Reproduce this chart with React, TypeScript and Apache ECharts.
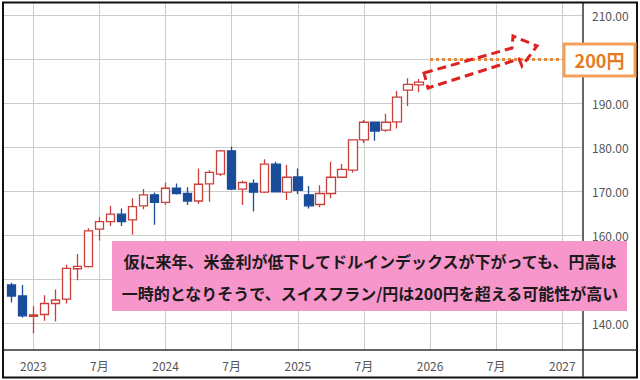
import React, { useEffect, useRef } from "react";
import * as echarts from "echarts";

// Monthly candles (CHF/JPY)
const months = [
  "2022-11", "2022-12",
  "2023-01", "2023-02", "2023-03", "2023-04", "2023-05", "2023-06",
  "2023-07", "2023-08", "2023-09", "2023-10", "2023-11", "2023-12",
  "2024-01", "2024-02", "2024-03", "2024-04", "2024-05", "2024-06",
  "2024-07", "2024-08", "2024-09", "2024-10", "2024-11", "2024-12",
  "2025-01", "2025-02", "2025-03", "2025-04", "2025-05", "2025-06",
  "2025-07", "2025-08", "2025-09", "2025-10", "2025-11", "2025-12",
];
const opens = [
  148.7, 146.2,
  141.6, 142.0, 144.5, 145.5, 152.4, 152.9,
  161.4, 163.1, 164.8, 163.5, 166.7, 169.2,
  167.5, 170.7, 169.5, 167.8, 171.7, 173.9,
  179.2, 170.5, 171.8, 169.8, 176.2, 169.8,
  173.25, 169.2, 167.0, 169.5, 173.2, 174.8,
  181.7, 185.7, 183.9, 185.8, 193.0, 194.2,
];
const closes = [
  146.2, 141.7,
  141.9, 144.5, 145.3, 152.5, 152.95, 161.0,
  163.1, 164.8, 163.1, 166.5, 169.2, 167.5,
  170.7, 169.5, 167.8, 171.6, 174.3, 179.2,
  170.5, 172.0, 169.8, 176.2, 169.9, 173.2,
  170.2, 166.7, 169.5, 173.2, 175.0, 181.7,
  185.7, 183.7, 185.7, 191.4, 194.3, 194.8,
];
const lows = [
  144.7, 141.3,
  137.7, 140.6, 140.4, 144.5, 149.8, 152.7,
  158.8, 162.1, 162.1, 160.1, 165.9, 162.4,
  166.9, 169.3, 166.9, 167.1, 167.6, 173.5,
  170.3, 166.9, 165.4, 169.6, 169.7, 168.0,
  169.4, 166.1, 166.4, 168.4, 173.1, 174.2,
  181.0, 181.5, 183.5, 184.3, 189.4, 192.5,
];
const highs = [
  149.2, 148.7,
  143.9, 146.4, 147.7, 153.3, 155.75, 161.6,
  164.1, 166.7, 166.1, 168.4, 170.5, 169.7,
  172.0, 171.8, 170.9, 175.2, 174.8, 179.4,
  180.1, 172.4, 172.7, 177.3, 176.7, 176.0,
  175.2, 171.2, 171.4, 176.7, 176.2, 181.8,
  186.2, 185.8, 187.6, 192.8, 195.7, 195.5,
];

// Axis ticks: month index counted from 2023-01
const xTickMonths = [0, 6, 12, 18, 24, 30, 36, 42, 48];
const baseYear = 2023;
const yTicks = [140, 150, 160, 170, 180, 190, 200, 210];
// labels hidden behind the annotation boxes in the reference are not printed
const yLabelTicks = [140, 160, 170, 180, 190, 210];

const targetLevel = 200;
const targetStartMonth = "2026-01";
const targetLabel = "200円";
const noteLines = [
  "仮に来年、米金利が低下してドルインデックスが下がっても、円高は",
  "一時的となりそうで、スイスフラン/円は200円を超える可能性が高い",
];

function monthIndex(s: string): number {
  const [y, m] = s.split("-").map(Number);
  return (y - baseYear) * 12 + (m - 1);
}

const JP = "'Noto Sans CJK JP', 'Noto Sans', sans-serif";

export default function App() {
  const ref = useRef<HTMLDivElement>(null);

  useEffect(() => {
    if (!ref.current) return;
    const chart = echarts.init(ref.current, null, { renderer: "svg" });

    const candleData = months.map((mo, i) => [
      monthIndex(mo),
      opens[i],
      closes[i],
      lows[i],
      highs[i],
    ]);

    const option: any = {
      animation: false,
      backgroundColor: "#ffffff",
      grid: {
        left: 3,
        right: 57,
        top: 3,
        bottom: 30,
        containLabel: false,
        outerBoundsMode: "none",
      },
      xAxis: {
        type: "value",
        min: -2.75,
        max: 49.88,
        axisLine: { show: true, onZero: false, lineStyle: { color: "#333", width: 1.5 } },
        axisTick: { show: false, customValues: xTickMonths },
        axisLabel: {
          customValues: xTickMonths,
          color: "#555",
          fontSize: 12,
          fontFamily: JP,
          margin: 9,
          formatter: (v: number) =>
            v % 12 === 0 ? String(baseYear + v / 12) : "7月",
        },
        splitLine: { show: true, lineStyle: { color: "#cccccc", width: 1 } },
      },
      yAxis: {
        type: "value",
        position: "right",
        min: 133.93,
        max: 212.8,
        axisLine: { show: true, onZero: false, lineStyle: { color: "#333", width: 1.5 } },
        axisTick: { show: false, customValues: yTicks },
        axisLabel: {
          customValues: yLabelTicks,
          color: "#555",
          fontSize: 12,
          fontFamily: JP,
          margin: 9,
          formatter: (v: number) => v.toFixed(2),
        },
        splitLine: { show: true, lineStyle: { color: "#cccccc", width: 1 } },
      },
      series: [
        {
          type: "candlestick",
          data: candleData,
          barWidth: 9,
          itemStyle: {
            color: "#ffffff",
            color0: "#1a4d99",
            borderColor: "#c9403a",
            borderColor0: "#1a4d99",
            borderWidth: 1.3,
          },
          markLine: {
            silent: true,
            symbol: ["none", "none"],
            label: { show: false },
            lineStyle: { color: "#e8893a", width: 3, type: [3, 3] },
            data: [
              [
                { coord: [monthIndex(targetStartMonth), targetLevel] },
                { coord: [48.1, targetLevel] },
              ],
            ],
          },
        },
      ],
      graphic: [
        // outer frame and axis extensions
        {
          type: "rect",
          z: 100,
          shape: { x: 3, y: 2.5, width: 634, height: 375 },
          style: { fill: "none", stroke: "#111", lineWidth: 2 },
        },
        {
          type: "line",
          z: 100,
          shape: { x1: 583, y1: 350, x2: 637, y2: 350 },
          style: { stroke: "#333", lineWidth: 1.5 },
        },
        {
          type: "line",
          z: 100,
          shape: { x1: 583, y1: 350, x2: 583, y2: 377 },
          style: { stroke: "#333", lineWidth: 1.5 },
        },
        // pink note box
        {
          type: "rect",
          z: 100,
          shape: { x: 112, y: 241, width: 515, height: 70 },
          style: { fill: "#f796cb" },
        },
        {
          type: "text",
          z: 101,
          x: 370,
          y: 260.5,
          style: {
            text: noteLines[0],
            fill: "#1a1a1a",
            font: `bold 16px ${JP}`,
            align: "center",
            verticalAlign: "middle",
          },
        },
        {
          type: "text",
          z: 101,
          x: 370,
          y: 292.5,
          style: {
            text: noteLines[1],
            fill: "#1a1a1a",
            font: `bold 16px ${JP}`,
            align: "center",
            verticalAlign: "middle",
          },
        },
        // 200円 label box
        {
          type: "rect",
          z: 100,
          shape: { x: 564, y: 44, width: 71, height: 32 },
          style: { fill: "#ffffff", stroke: "#f3a05a", lineWidth: 3 },
        },
        {
          type: "text",
          z: 101,
          x: 599.5,
          y: 60,
          style: {
            text: targetLabel,
            fill: "#e77a22",
            font: `bold 18px ${JP}`,
            align: "center",
            verticalAlign: "middle",
          },
        },
        // dashed arrow
        {
          type: "polygon",
          z: 100,
          shape: {
            points: [
              [424, 73],
              [512, 48],
              [513, 36],
              [537, 46],
              [522, 66],
              [519, 59],
              [428, 88],
            ],
          },
          style: {
            fill: "none",
            stroke: "#dd2222",
            lineWidth: 3,
            lineDash: [9, 5],
          },
        },
      ],
    };

    chart.setOption(option);
    return () => chart.dispose();
  }, []);

  return (
    <div
      ref={ref}
      style={{
        position: "fixed",
        left: 0,
        top: 0,
        width: 640,
        height: 380,
        background: "#fff",
      }}
    />
  );
}
